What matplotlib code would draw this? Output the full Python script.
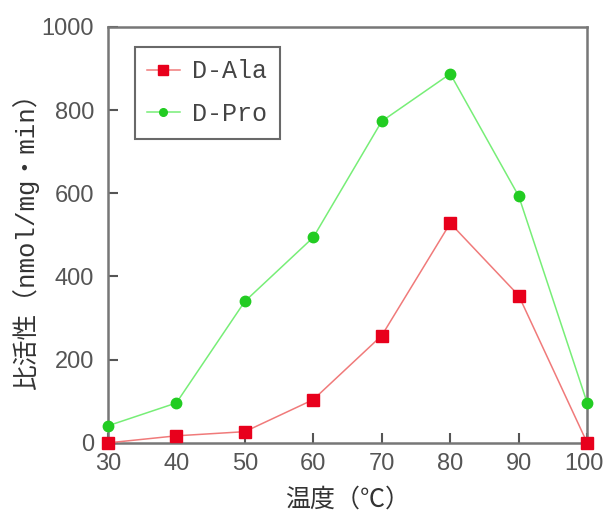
import matplotlib
matplotlib.use("Agg")
import matplotlib.pyplot as plt
from matplotlib.lines import Line2D
from matplotlib.transforms import ScaledTranslation

temps = [30, 40, 50, 60, 70, 80, 90, 100]
d_ala = [0, 17, 27, 104, 258, 528, 354, 0]
d_pro = [41, 96, 340, 494, 773, 887, 593, 96]
x_ticks = [30, 40, 50, 60, 70, 80, 90, 100]
y_ticks = [0, 200, 400, 600, 800, 1000]

plt.rcParams['font.family'] = ['Noto Sans CJK JP', 'DejaVu Sans']

fig = plt.figure(figsize=(6.06, 5.15), dpi=100)
ax = fig.add_axes([0.178, 0.140, 0.791, 0.808])

red_m = '#e8001c'
red_l = '#f07a7a'
grn_m = '#22cc22'
grn_l = '#77ee77'

ax.plot(temps, d_ala, color=red_l, lw=1.1, zorder=3, clip_on=False)
ax.plot(temps, d_ala, ls='none', marker='s', ms=8.5, color=red_m, mec=red_m, zorder=4, clip_on=False)
ax.plot(temps, d_pro, color=grn_l, lw=1.1, zorder=3, clip_on=False)
ax.plot(temps, d_pro, ls='none', marker='o', ms=7.5, color=grn_m, mec=grn_m, zorder=4, clip_on=False)

ax.set_xlim(30, 100)
ax.set_ylim(0, 1000)
ax.set_xticks(x_ticks)
ax.set_yticks(y_ticks)

tick_font = dict(family=['Liberation Sans', 'DejaVu Sans'], size=17)
ax.set_xticklabels([str(t) for t in x_ticks], fontdict=tick_font, color='#555555')
ax.set_yticklabels([str(t) for t in y_ticks], fontdict=tick_font, color='#555555')
ax.tick_params(axis='y', direction='in', length=7, width=1.5, color='#555555', pad=10)
ax.tick_params(axis='x', direction='in', length=7, width=1.5, color='#555555', pad=7)

last = ax.get_xticklabels()[-1]
last.set_transform(last.get_transform() + ScaledTranslation(-3 / 100, 0, fig.dpi_scale_trans))

for s in ax.spines.values():
    s.set_color('#777777')
    s.set_linewidth(1.8)

lab_fam = ['Liberation Mono', 'Noto Sans CJK JP', 'DejaVu Sans']
ax.set_ylabel('比活性（nmol/mg・min）', family=lab_fam, fontsize=18.5, color='#333333', labelpad=2)
ax.set_xlabel('温度（℃）', family=lab_fam, fontsize=18, color='#333333', labelpad=9)

handles = [
    Line2D([], [], color=red_l, lw=1.1, marker='s', ms=7, mfc=red_m, mec=red_m),
    Line2D([], [], color=grn_l, lw=1.1, marker='o', ms=5.5, mfc=grn_m, mec=grn_m),
]
leg = ax.legend(handles, ['D-Ala', 'D-Pro'], loc='upper left',
                bbox_to_anchor=(0.056, 0.952), frameon=True, fancybox=False,
                prop=dict(family=['Liberation Mono', 'DejaVu Sans Mono'], size=18),
                handlelength=1.3, handletextpad=0.5, borderpad=0.5, labelspacing=0.75,
                borderaxespad=0)
leg.get_frame().set_edgecolor('#444444')
leg.get_frame().set_linewidth(1.5)
for t in leg.get_texts():
    t.set_color('#444444')

fig.savefig('out.png', dpi=100)
